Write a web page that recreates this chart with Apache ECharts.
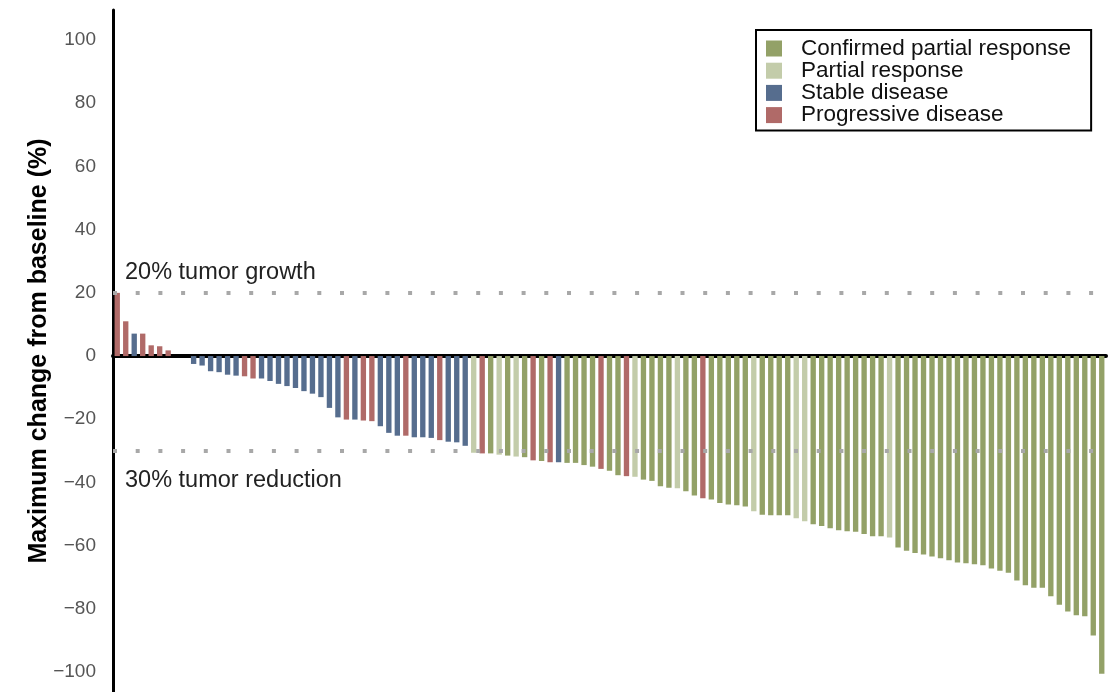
<!DOCTYPE html>
<html lang="en">
<head>
    <meta charset="UTF-8">
    <title>Waterfall plot</title>
    <script type="text/javascript" src="https://cdn.jsdelivr.net/npm/echarts@6/dist/echarts.min.js"></script>
    <style>
        html, body { margin: 0; padding: 0; background: #fff; }
    </style>
</head>
<body>
<div id="main" style="width: 1118px;height:692px;"></div>
<script>
    // maximum change from baseline (%) per patient, sorted
    var values = [
        20, 11, 7.1, 7.1, 3.4, 3.1, 1.8, 0, 0, -2.5,
        -3, -4.8, -5.1, -5.9, -6.2, -6.4, -7.1, -7.1, -7.9, -8.8,
        -9.5, -10.1, -11.1, -11.9, -13, -16.4, -19.4, -20.1, -20.1, -20.4,
        -20.6, -22.2, -24.3, -25.2, -25.2, -25.7, -25.7, -25.9, -26.6, -27.1,
        -27.3, -28.4, -30.6, -30.8, -30.8, -31.2, -31.5, -31.8, -32, -33,
        -33.2, -33.6, -33.6, -33.8, -33.8, -34.5, -35, -35.7, -36.3, -37.7,
        -38, -38.2, -39.1, -39.5, -41.2, -41.7, -41.8, -42.8, -44.1, -45,
        -45.4, -46.5, -47, -47.2, -47.6, -49.1, -50.2, -50.4, -50.4, -50.4,
        -51.3, -52.3, -53.2, -53.8, -54.5, -55.1, -55.4, -55.6, -56.3, -57,
        -57, -57.4, -60.6, -61.6, -62.3, -62.8, -63.4, -64, -64.6, -65.3,
        -65.6, -65.9, -66.2, -67.2, -67.9, -68.6, -71, -72.5, -73.3, -73.3,
        -76, -78.7, -80.8, -82, -82.3, -88.4, -100.5
    ];
    // C = confirmed PR, P = PR, S = stable, D = progressive
    // (not called "status": that name is taken by window.status)
    var responses = [
        'D','D','S','D','D','D','D','S','S','S',
        'S','S','S','S','S','D','D','S','S','S',
        'S','S','S','S','S','S','S','D','S','D',
        'D','S','S','S','D','S','S','S','D','S',
        'S','S','P','D','C','P','C','P','C','D',
        'C','D','S','C','C','C','C','D','C','C',
        'D','P','C','C','C','C','P','C','C','D',
        'C','C','C','C','C','P','C','C','C','C',
        'P','P','C','C','C','C','C','C','C','C',
        'C','P','C','C','C','C','C','C','C','C',
        'C','C','C','C','C','C','C','C','C','C',
        'C','C','C','C','C','C','C'
    ];
    var groupCodes = ['C', 'P', 'S', 'D'];
    var groupNames = ['Confirmed partial response', 'Partial response', 'Stable disease', 'Progressive disease'];
    var groupColors = ['#93a167', '#c3ccaa', '#566d8e', '#b06a68'];
    var yTicks = [-100, -80, -60, -40, -20, 0, 20, 40, 60, 80, 100];

    var patients = values.map(function (v, i) { return 'Pt ' + (i + 1); });

    var myChart = echarts.init(document.getElementById('main'));

    // one bar series, each bar coloured by its response group
    var barData = values.map(function (v, i) {
        return {value: v, itemStyle: {color: groupColors[groupCodes.indexOf(responses[i])]}};
    });

    var series = [{
        name: 'change',
        type: 'bar',
        barCategoryGap: '37%',
        data: barData,
        markLine: {
            silent: true,
            symbol: ['none', 'none'],
            lineStyle: {color: '#a8a8a8', width: 4, type: [4, 18.7]},
            label: {
                color: '#222',
                fontSize: 23.5,
                fontFamily: 'Liberation Sans, Arial, sans-serif'
            },
            data: [
                {yAxis: 20, label: {position: 'insideStartTop', distance: [12, 8], formatter: '20% tumor growth'}},
                {yAxis: -30, label: {position: 'insideStartBottom', distance: [12, 18], formatter: '30% tumor reduction'}}
            ]
        }
    }];
    // empty series only to feed the legend
    groupNames.forEach(function (name, g) {
        series.push({name: name, type: 'scatter', data: [], itemStyle: {color: groupColors[g], opacity: 1}});
    });

    var option = {
        animation: false,
        textStyle: {fontFamily: 'Liberation Sans, Arial, sans-serif'},
        grid: {left: 113, right: 12, top: 10, bottom: 0},
        legend: {
            orient: 'vertical',
            left: 756,
            top: 30,
            icon: 'rect',
            itemWidth: 16,
            itemHeight: 16,
            itemGap: -0.8,
            padding: [7, 20, 4, 10],
            borderColor: '#000',
            borderWidth: 2,
            textStyle: {fontSize: 22.5, color: '#111', padding: [0, 0, 0, 14]},
            data: groupNames
        },
        xAxis: {
            type: 'category',
            data: patients,
            axisLine: {onZero: true, lineStyle: {color: '#000', width: 4}},
            axisTick: {show: false},
            axisLabel: {show: false}
        },
        yAxis: {
            type: 'value',
            min: -106.3,
            max: 109.5,
            name: 'Maximum change from baseline (%)',
            nameLocation: 'middle',
            nameGap: 61,
            nameMoveOverlap: false,
            nameTextStyle: {fontSize: 25, fontWeight: 'bold', color: '#000'},
            axisLine: {show: true, lineStyle: {color: '#000', width: 3}},
            axisTick: {show: false},
            splitLine: {show: false},
            axisLabel: {
                customValues: yTicks,
                fontSize: 19,
                color: '#555',
                margin: 17,
                formatter: function (v) { return v < 0 ? '\u2212' + Math.abs(v) : String(v); }
            }
        },
        series: series
    };

    myChart.setOption(option);
</script>
</body>
</html>
